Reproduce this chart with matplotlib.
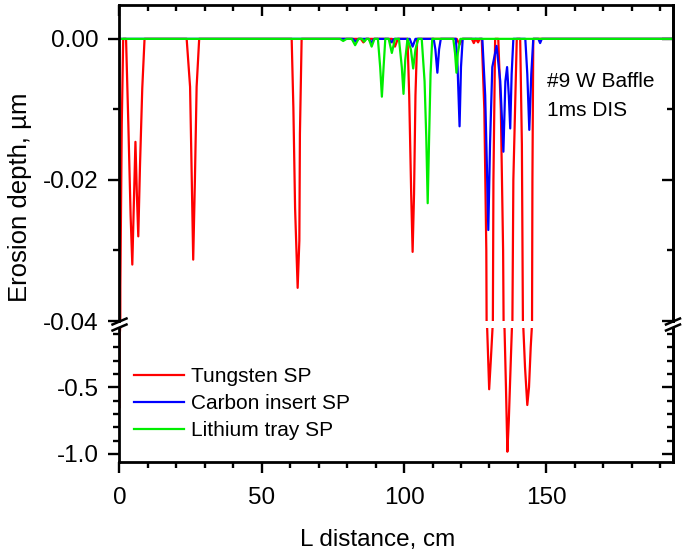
import numpy as np
import matplotlib
matplotlib.use('Agg')
import matplotlib.pyplot as plt
from matplotlib.lines import Line2D

plt.rcParams['font.family'] = ['Liberation Sans', 'DejaVu Sans']

# Tungsten SP
w_x = [0, 0.1, 0.3, 0.8, 1.3, 2.3, 3.1, 3.9, 4.5, 5.0, 5.6, 6.1, 6.6, 7.2, 8.0, 8.8,
       23.6, 24.8, 25.4, 25.9, 26.5, 27.1, 28.0,
       60.5, 61.1, 61.7, 62.6, 63.2, 63.4, 64.0,
       84.8, 85.7, 86.6, 95.8, 96.8, 97.8,
       101.2, 101.8, 102.5, 103.0, 103.5, 104.0, 104.6,
       118.5, 119.5, 120.5, 123.8, 124.5, 125.2, 126.0, 126.6,
       127.3, 128.2, 128.9, 129.2, 129.9, 130.5, 131.1, 131.4, 132.0,
       133.1, 134.0, 134.8, 135.3, 135.8, 136.3, 136.8, 137.5, 137.9, 138.4, 139.6,
       140.8, 141.4, 141.9, 142.5, 143.3, 143.9, 144.5, 144.9, 145.1, 145.4,
       195]
w_y = [-0.65, -0.1, -0.035, -0.012, 0, 0, -0.012, -0.025, -0.032, -0.024, -0.0146, -0.022, -0.028, -0.018, -0.007, 0,
       0, -0.0068, -0.02, -0.0313, -0.02, -0.0068, 0,
       0, -0.0098, -0.024, -0.0353, -0.0286, -0.0135, 0,
       0, -0.0005, 0, 0, -0.0011, 0,
       0, -0.008, -0.022, -0.0302, -0.022, -0.008, 0,
       0, -0.0008, 0, 0, -0.0006, 0, -0.0005, 0,
       0, -0.01, -0.03, -0.06, -0.515, -0.29, -0.05, -0.02, 0,
       0, -0.01, -0.03, -0.06, -0.5, -0.983, -0.75, -0.3, -0.05, -0.02, 0,
       0, -0.015, -0.05, -0.35, -0.633, -0.5, -0.2, -0.05, -0.02, 0,
       0]

# Carbon insert SP
c_x = [0, 82, 83, 84, 87.5, 88.5, 89.5, 94.5, 95.5, 96.5, 102, 103, 104,
       110.4, 111.0, 111.7, 112.3, 112.9,
       118.2, 118.8, 119.5, 120.0, 120.6,
       127.5, 128.5, 129.1, 129.6, 130.2, 131.0, 132.5, 133.8, 134.9, 135.6,
       136.2, 136.8, 137.3, 137.8, 138.4,
       142.6, 143.3, 144.0, 144.7, 145.4, 147.2, 147.8, 148.4, 195]
c_y = [0, 0, -0.0004, 0, 0, -0.0005, 0, 0, -0.0005, 0, 0, -0.0011, 0,
       0, -0.0015, -0.0048, -0.0015, 0,
       0, -0.004, -0.0124, -0.004, 0,
       0, -0.008, -0.018, -0.0271, -0.015, -0.004, -0.001, -0.006, -0.016, -0.006,
       -0.004, -0.008, -0.0127, -0.005, 0,
       0, -0.005, -0.0129, -0.005, 0, 0, -0.0006, 0, 0]

# Lithium tray SP
l_x = [0, 77.5, 78.6, 79.8, 81.6, 82.8, 84.0, 85.2, 86.0, 86.8, 87.6, 88.6, 89.6,
       90.8, 91.6, 92.2, 92.8, 93.4, 94.6, 95.7, 96.8,
       98.2, 99.2, 99.8, 100.4, 101.2, 102.4, 103.2, 104.0, 105.0,
       106.2, 107.2, 107.8, 108.3, 108.8, 109.3, 109.9,
       117.3, 117.9, 118.4, 118.9, 119.8, 195]
l_y = [0, 0, -0.0003, 0, 0, -0.0009, 0, 0, -0.0004, 0, 0, -0.0011, 0,
       0, -0.004, -0.0082, -0.004, 0, 0, -0.002, 0,
       0, -0.004, -0.0078, -0.003, 0, -0.0015, -0.0042, -0.0015, 0,
       0, -0.006, -0.014, -0.0233, -0.014, -0.005, 0,
       0, -0.002, -0.0048, -0.002, 0, 0]

series = [(w_x, w_y, '#ff0000', 'Tungsten SP'),
          (c_x, c_y, '#0000ff', 'Carbon insert SP'),
          (l_x, l_y, '#00ee00', 'Lithium tray SP')]

W, H = 685, 558
fig = plt.figure(figsize=(W / 100, H / 100), dpi=100)
L, R = 119.5 / W, 673 / W
ax_top = fig.add_axes([L, 1 - 321 / H, R - L, (321 - 5) / H])
ax_bot = fig.add_axes([L, 1 - 462 / H, R - L, (462 - 328) / H])

for ax in (ax_top, ax_bot):
    for x, y, col, lab in series:
        ax.plot(x, y, color=col, lw=1.6, label=lab)
    ax.set_xlim(0, 194.5)
    for s in ax.spines.values():
        s.set_linewidth(2.0)
    ax.set_xticks([0, 50, 100, 150])
    ax.set_xticks(np.arange(0, 195, 10), minor=True)
    ax.tick_params(which='major', length=8, width=1.7, labelsize=17.5)
    ax.tick_params(which='minor', length=4.5, width=1.7)

ax_top.set_ylim(-0.04, 0.0048)
ax_top.set_yticks([0, -0.02, -0.04])
ax_top.set_yticklabels(['0.00', '-0.02', '-0.04'])
ax_top.set_yticks([-0.01, -0.03], minor=True)
ax_top.spines['bottom'].set_visible(False)
ax_top.tick_params(axis='x', which='both', bottom=False, labelbottom=False,
                   top=True, direction='in')
ax_top.tick_params(axis='y', which='both', left=True, direction='out', pad=7)

ax_bot.set_ylim(-1.06, -0.056)
ax_bot.set_yticks([-0.5, -1.0])
ax_bot.set_yticklabels(['-0.5', '-1.0'])
ax_bot.set_yticks(np.arange(-1.0, -0.05, 0.1), minor=True)
ax_bot.spines['top'].set_visible(False)
ax_bot.tick_params(axis='x', which='both', direction='out', pad=10)
ax_bot.tick_params(axis='y', which='both', direction='out', pad=7)

# right side ticks pointing inward
for ax in (ax_top, ax_bot):
    ax2 = ax.secondary_yaxis('right')
    ax2.set_yticks(ax.get_yticks())
    ax2.set_yticks(ax.get_yticks(minor=True), minor=True)
    ax2.tick_params(which='major', direction='in', length=8, width=1.7, labelright=False)
    ax2.tick_params(which='minor', direction='in', length=4.5, width=1.7)
    ax2.spines['right'].set_linewidth(2.0)

# break marks
for xf in (L, R):
    for yp in (321.5, 327.5):
        yf = 1 - yp / H
        fig.add_artist(Line2D([xf - 7 / W, xf + 7 / W], [yf - 3 / H, yf + 3 / H],
                              color='black', lw=1.8))

fig.text(20 / W, 1 - 197 / H, 'Erosion depth, \u00b5m', rotation=90, fontsize=18.5,
         ha='center', va='center')
fig.text(378 / W, 1 - 540 / H, 'L distance, cm', fontsize=17.5, ha='center', va='center')

ax_top.text(547 / W, 1 - 82 / H, '#9 W Baffle', transform=fig.transFigure,
            fontsize=15, va='center')
ax_top.text(547 / W, 1 - 110 / H, '1ms DIS', transform=fig.transFigure,
            fontsize=15, va='center')

handles = [Line2D([], [], color=c, lw=1.6) for _, _, c, _ in series]
labels = [s[3] for s in series]
ax_bot.legend(handles, labels, loc='upper left', bbox_to_anchor=(134 / W, 1 - 367 / H),
              bbox_transform=fig.transFigure, frameon=False, fontsize=15,
              borderaxespad=0, borderpad=0, handlelength=2.4, handletextpad=0.35,
              labelspacing=0.38)

fig.savefig('out.png', dpi=100)
